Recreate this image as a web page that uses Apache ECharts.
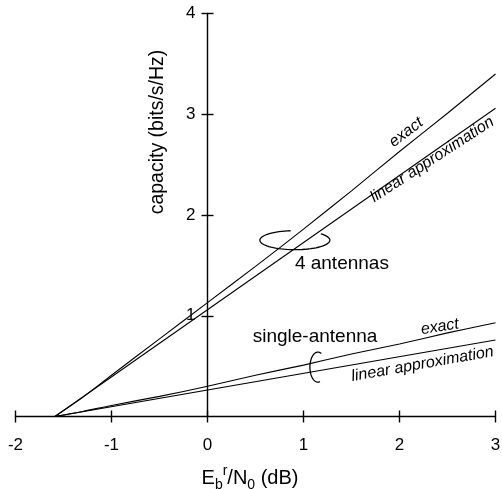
<!DOCTYPE html>
<html>
<head>
<meta charset="utf-8">
<script src="https://cdn.jsdelivr.net/npm/echarts@6/dist/echarts.min.js"></script>
<style>
  html, body { margin: 0; padding: 0; background: #fff; }
  #chart { width: 502px; height: 489px; }
</style>
</head>
<body>
<div id="chart"></div>
<script>
// Eb^r/N0 (dB) points
const ebN0Exact = [-1.59, -1.3, -1, -0.5, 0, 0.5, 1, 1.5, 2, 2.5, 3];
const fourExact = [0, 0.19, 0.41, 0.77, 1.13, 1.49, 1.86, 2.24, 2.63, 3.01, 3.40];
const singleExact = [0, 0.05, 0.11, 0.20, 0.30, 0.41, 0.51, 0.62, 0.72, 0.83, 0.93];

// linear approximations (straight lines from the -1.59 dB point)
const ebN0Linear = [-1.59, 3];
const fourLinear = [0, 3.06];
const singleLinear = [0, 0.76];

const xRange = [-2, 3];
const yRange = [0, 4];
const yTicks = [1, 2, 3, 4];

const FONT = '"Liberation Sans", Arial, Helvetica, sans-serif';
const BLACK = '#000';

const W = 502, H = 489;
const GRID = { left: 15.5, right: 6.5, top: 13.5, bottom: 72.5 };
// the y axis sits at x = 0, so shift it in from the grid's left edge
const yShift = (W - GRID.left - GRID.right) * (0 - xRange[0]) / (xRange[1] - xRange[0]);

function pairs(xs, ys) {
    return xs.map((x, i) => [x, ys[i]]);
}

const curveStyle = { color: BLACK, width: 1.1 };

function curve(name, data, smooth) {
    return {
        name: name,
        type: 'line',
        data: data,
        smooth: smooth,
        showSymbol: false,
        silent: true,
        lineStyle: curveStyle
    };
}

const axisLineStyle = { color: BLACK, width: 1.4 };

const option = {
    animation: false,
    backgroundColor: '#fff',
    grid: Object.assign({ outerBoundsMode: 'none' }, GRID),
    xAxis: [
        {
            type: 'value', min: xRange[0], max: xRange[1], interval: 1, position: 'bottom',
            axisLine: { onZero: false, lineStyle: axisLineStyle },
            axisTick: { inside: false, length: 6, lineStyle: axisLineStyle },
            axisLabel: { color: BLACK, fontSize: 17, fontFamily: FONT, margin: 20 },
            splitLine: { show: false },
            name: '{n|E}{s|b}{p|r}{n|/N}{s|0}{n| (dB)}',
            nameLocation: 'middle',
            nameGap: 48,
            nameTextStyle: {
                fontSize: 20,
                fontFamily: FONT,
                color: BLACK,
                padding: [0, 11, 0, 0],
                rich: {
                    n: { fontSize: 20, fontFamily: FONT, color: BLACK, lineHeight: 28, verticalAlign: 'middle' },
                    s: { fontSize: 14, fontFamily: FONT, color: BLACK, lineHeight: 14, verticalAlign: 'bottom' },
                    p: { fontSize: 14, fontFamily: FONT, color: BLACK, lineHeight: 22, verticalAlign: 'top' }
                }
            }
        },
        {
            // second axis only to draw the inner half of the crossing ticks
            type: 'value', min: xRange[0], max: xRange[1], interval: 1, position: 'bottom',
            axisLine: { show: false, onZero: false },
            axisTick: { inside: true, length: 6, lineStyle: axisLineStyle },
            axisLabel: { show: false },
            splitLine: { show: false }
        }
    ],
    yAxis: [
        {
            type: 'value', min: yRange[0], max: yRange[1], interval: 1, position: 'left',
            offset: -yShift,
            axisLine: { onZero: false, lineStyle: axisLineStyle },
            axisTick: { inside: false, length: 6, lineStyle: axisLineStyle, customValues: yTicks },
            axisLabel: {
                color: BLACK, fontSize: 17, fontFamily: FONT, margin: 12,
                customValues: yTicks,
                formatter: v => (v === 0 ? '' : String(v))
            },
            splitLine: { show: false }
        },
        {
            type: 'value', min: yRange[0], max: yRange[1], interval: 1, position: 'left',
            offset: -yShift,
            axisLine: { show: false, onZero: false },
            axisTick: { inside: true, length: 6, lineStyle: axisLineStyle, customValues: yTicks },
            axisLabel: { show: false },
            splitLine: { show: false }
        }
    ],
    series: [
        curve('4 antennas exact', pairs(ebN0Exact, fourExact), 0.3),
        curve('4 antennas linear', pairs(ebN0Linear, fourLinear), false),
        curve('single-antenna exact', pairs(ebN0Exact, singleExact), 0.3),
        curve('single-antenna linear', pairs(ebN0Linear, singleLinear), false)
    ]
};

const chart = echarts.init(document.getElementById('chart'));
chart.setOption(option);

// annotations, placed in data coordinates
const notes = [
    { text: 'exact', at: [2.07, 2.82], angle: 37, size: 16, italic: true },
    { text: 'linear approximation', at: [2.34, 2.55], angle: 33, size: 16, italic: true },
    { text: '4 antennas', at: [1.40, 1.52], angle: 0, size: 19, italic: false },
    { text: 'single-antenna', at: [1.12, 0.79], angle: 0, size: 19, italic: false },
    { text: 'exact', at: [2.42, 0.89], angle: 9, size: 16, italic: true },
    { text: 'linear approximation', at: [2.24, 0.52], angle: 10, size: 16, italic: true }
];

// loops drawn round each pair of curves
const loops = [
    { at: [0.91, 1.75], rx: 35, ry: 9.5, from: -42, to: 265 },
    { at: [1.15, 0.49], rx: 8, ry: 15, from: 75, to: 295 }
];

function toPx(p) {
    return chart.convertToPixel({ xAxisIndex: 0, yAxisIndex: 0 }, p);
}

const graphics = [];

notes.forEach(n => {
    const p = toPx(n.at);
    graphics.push({
        type: 'text',
        x: p[0], y: p[1],
        rotation: n.angle * Math.PI / 180,
        silent: true,
        style: {
            text: n.text,
            fill: BLACK,
            fontSize: n.size,
            fontFamily: FONT,
            fontStyle: n.italic ? 'italic' : 'normal',
            textAlign: 'center', textVerticalAlign: 'middle',
            align: 'center', verticalAlign: 'middle'
        }
    });
});

loops.forEach(l => {
    const c = toPx(l.at);
    const pts = [];
    for (let a = l.from; a <= l.to; a += 5) {
        const t = a * Math.PI / 180;
        pts.push([c[0] + l.rx * Math.cos(t), c[1] + l.ry * Math.sin(t)]);
    }
    graphics.push({
        type: 'polyline',
        silent: true,
        shape: { points: pts },
        style: { stroke: BLACK, lineWidth: 1.3, fill: null }
    });
});

// y axis title
graphics.push({
    type: 'text',
    x: 158, y: 132,
    rotation: Math.PI / 2,
    silent: true,
    style: {
        text: 'capacity (bits/s/Hz)',
        fill: BLACK, fontSize: 19.5, fontFamily: FONT,
        textAlign: 'center', textVerticalAlign: 'middle',
        align: 'center', verticalAlign: 'middle'
    }
});

chart.setOption({ graphic: graphics });
</script>
</body>
</html>
